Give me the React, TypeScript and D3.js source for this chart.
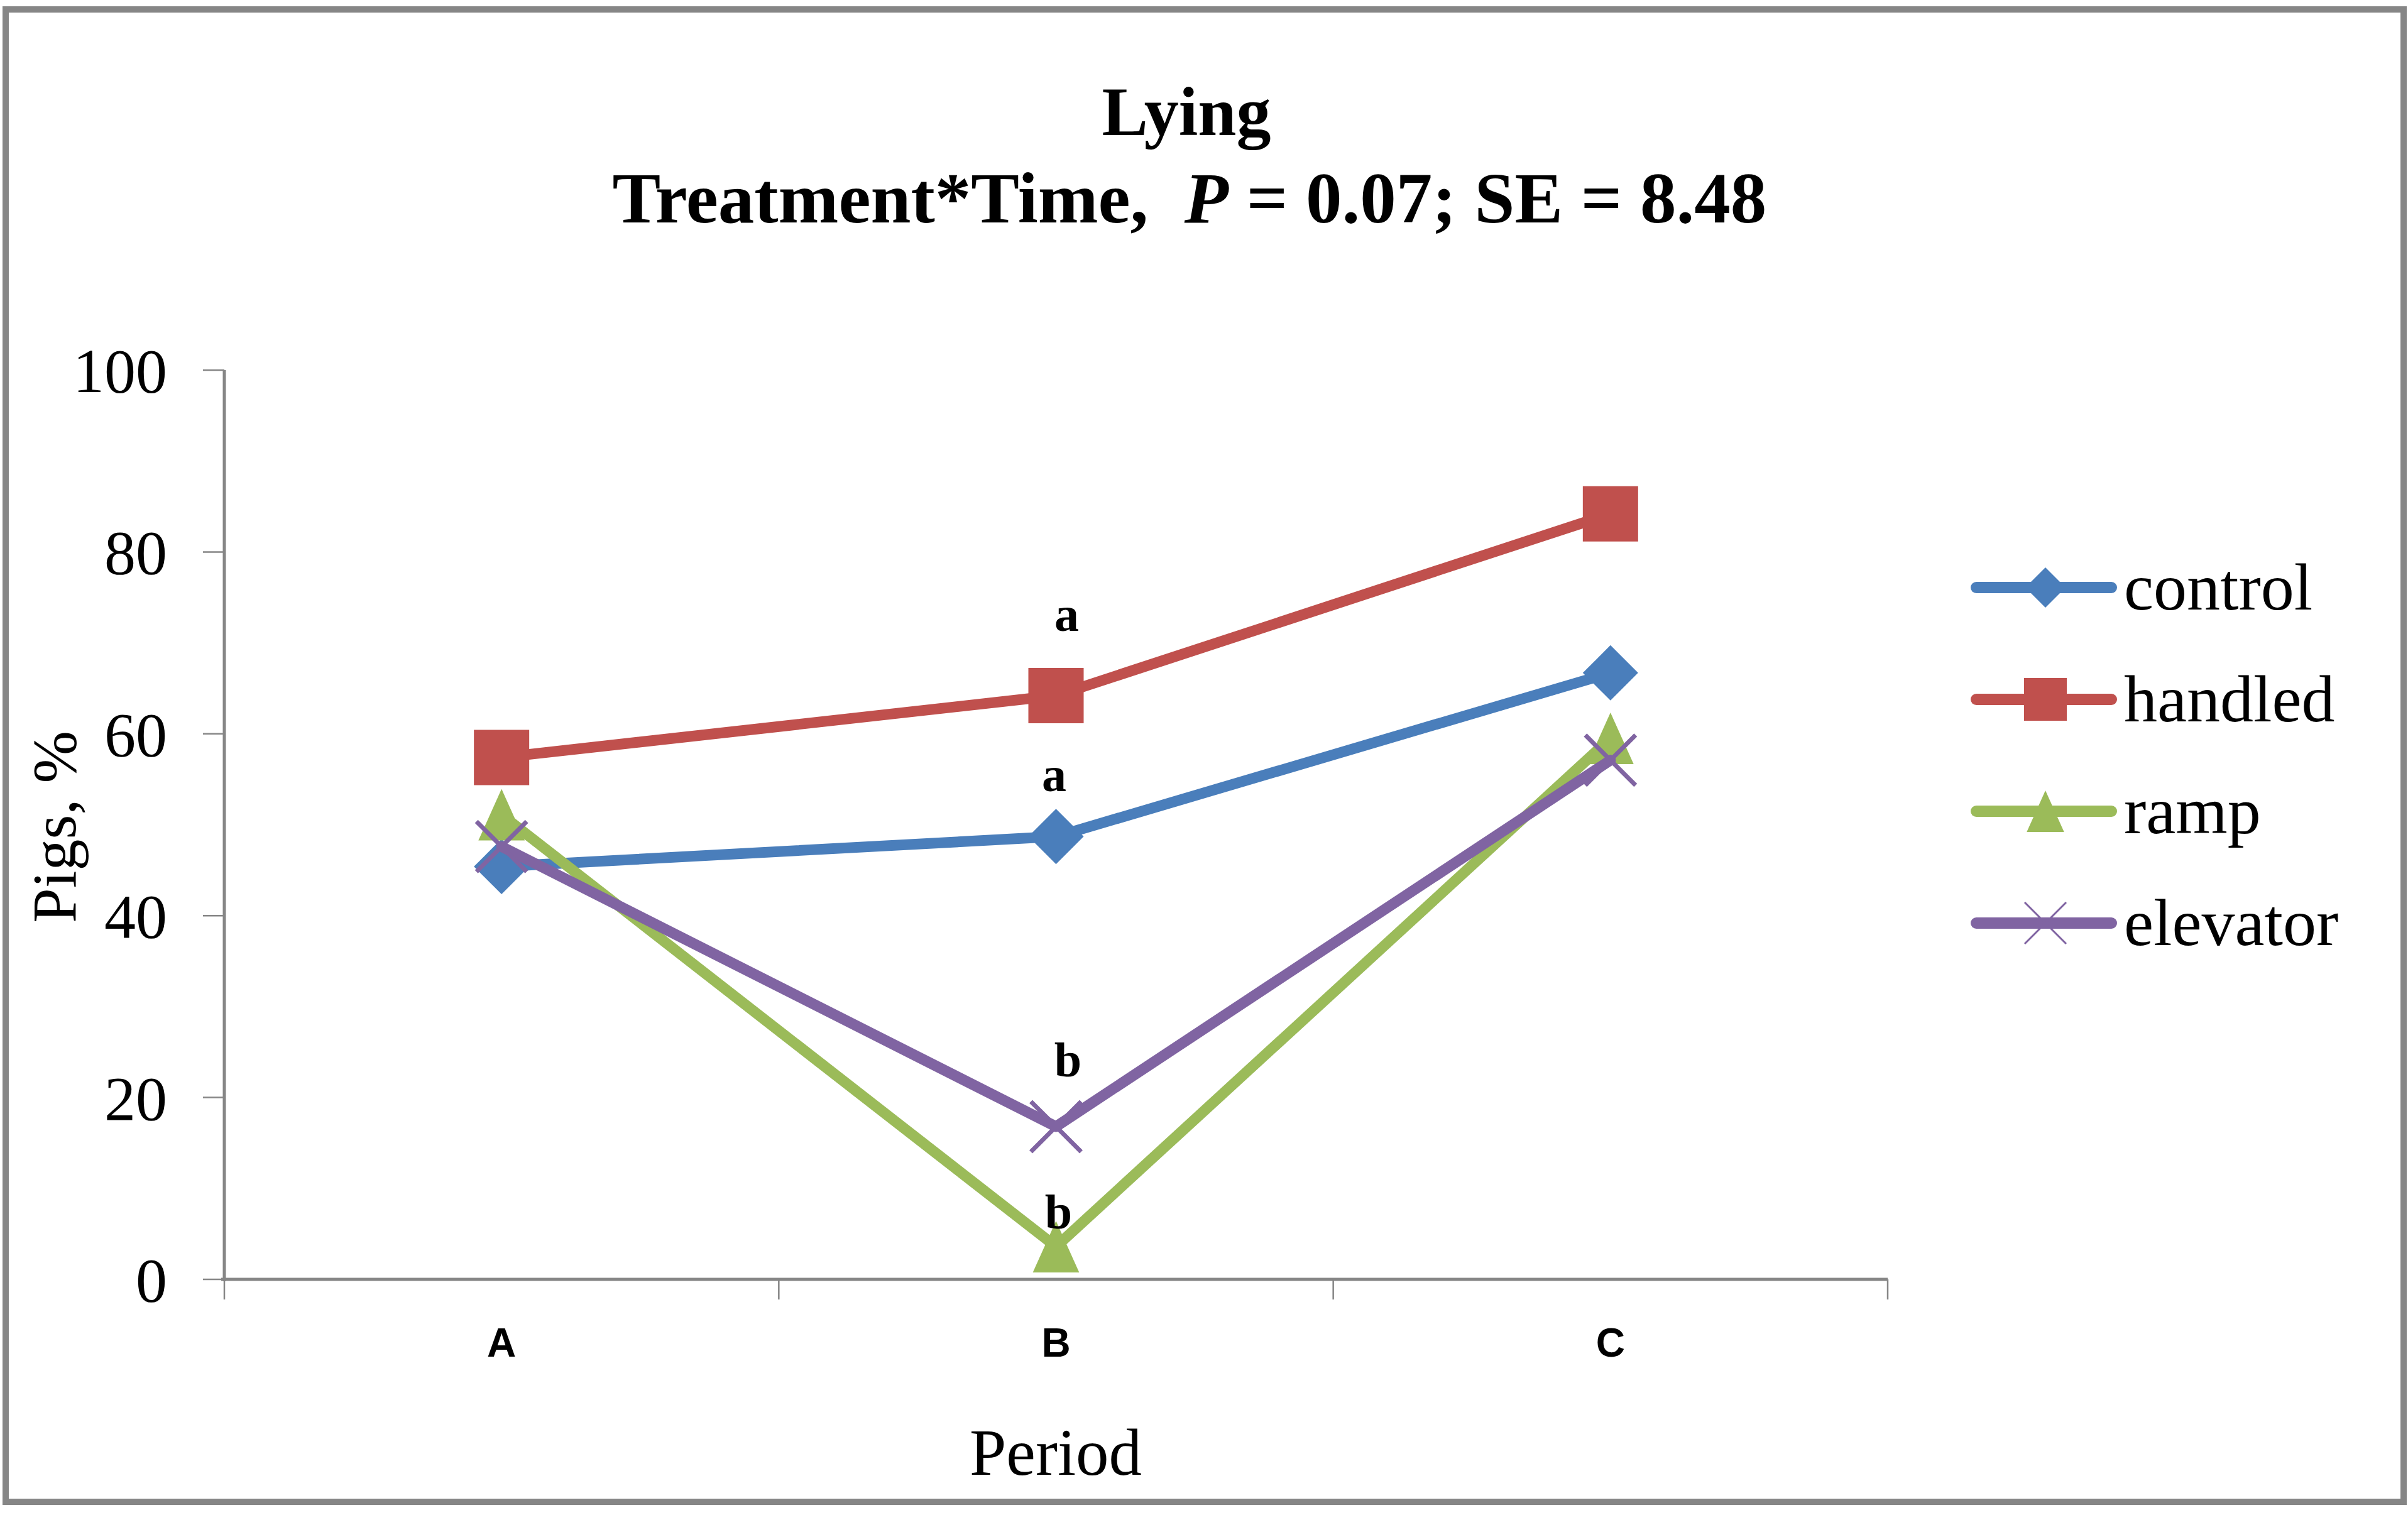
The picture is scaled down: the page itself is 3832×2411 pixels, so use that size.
import * as d3 from "d3";
import React from "react";

const categories = ["A", "B", "C"];
const seriesNames = ["control", "handled", "ramp", "elevator"];
const controlValues = [45.4, 48.7, 66.7];
const handledValues = [57.4, 64.2, 84.2];
const rampValues = [51.1, 3.6, 59.5];
const elevatorValues = [47.6, 16.8, 57.1];
const yTicks = [0, 20, 40, 60, 80, 100];

// significance letters at period B
const letterLabels = [
  { series: "handled", category: "B", text: "a", dx: 17, dy: -103 },
  { series: "control", category: "B", text: "a", dx: -3, dy: -72 },
  { series: "elevator", category: "B", text: "b", dx: 19, dy: -80 },
  { series: "ramp", category: "B", text: "b", dx: 4, dy: -29 },
];

const W = 3832;
const H = 2411;
const serif = "'Liberation Serif', 'Times New Roman', serif";
const sans = "'Liberation Sans', Arial, sans-serif";
const axisGray = "#868686";

const styles: Record<string, { color: string; shape: string }> = {
  control: { color: "#4A7EBB", shape: "diamond" },
  handled: { color: "#C0504D", shape: "square" },
  ramp: { color: "#9BBB59", shape: "triangle" },
  elevator: { color: "#8064A2", shape: "x" },
};

const valuesBySeries: Record<string, number[]> = {
  control: controlValues,
  handled: handledValues,
  ramp: rampValues,
  elevator: elevatorValues,
};

function markerPath(shape: string, h: number) {
  const p = d3.path();
  if (shape === "square") {
    p.rect(-h, -h, 2 * h, 2 * h);
  } else if (shape === "diamond") {
    p.moveTo(0, -h);
    p.lineTo(h, 0);
    p.lineTo(0, h);
    p.lineTo(-h, 0);
    p.closePath();
  } else if (shape === "triangle") {
    p.moveTo(0, -h);
    p.lineTo(h * 0.9, h);
    p.lineTo(-h * 0.9, h);
    p.closePath();
  } else {
    p.moveTo(-h, -h);
    p.lineTo(h, h);
    p.moveTo(h, -h);
    p.lineTo(-h, h);
  }
  return p.toString();
}

const markerSize: Record<string, number> = {
  square: 44,
  diamond: 44,
  triangle: 41,
  x: 40,
};

const legendSize: Record<string, number> = {
  square: 34,
  diamond: 32,
  triangle: 33,
  x: 33,
};

const Marker = ({ shape, color, h, thin }: { shape: string; color: string; h: number; thin?: boolean }) =>
  shape === "x" ? (
    <path d={markerPath(shape, h)} fill="none" stroke={color} strokeWidth={thin ? 3 : 7} />
  ) : (
    <path d={markerPath(shape, h)} fill={color} />
  );

export default function App() {
  const x = d3.scaleBand().domain(categories).range([357, 3004]);
  const y = d3.scaleLinear().domain([0, 100]).range([2036, 589]);
  const cx = (c: string) => (x(c) ?? 0) + x.bandwidth() / 2;

  const line = d3
    .line<number>()
    .x((_, i) => cx(categories[i]))
    .y((d) => y(d));

  const xBoundaries = [...categories.map((c) => x(c) ?? 0), x.range()[1]];

  return (
    <svg
      width={W}
      height={H}
      style={{ position: "absolute", left: 0, top: 0, display: "block", background: "#fff" }}
    >
      <rect x={0} y={0} width={W} height={H} fill="#fff" />
      <rect x={9} y={15} width={3816} height={2375} fill="#fff" stroke={axisGray} strokeWidth={10} />

      {/* title */}
      <text x={1888} y={215} textAnchor="middle" fontFamily={serif} fontWeight="bold" fontSize={110}>
        Lying
      </text>
      <text x={1893} y={354} textAnchor="middle" fontFamily={serif} fontWeight="bold" fontSize={115}>
        <tspan>Treatment*Time,{"\u00A0 "}</tspan>
        <tspan fontStyle="italic">P</tspan>
        <tspan> = 0.07; SE = 8.48</tspan>
      </text>

      {/* y axis */}
      <line x1={357} x2={357} y1={y(100)} y2={y(0) + 3} stroke={axisGray} strokeWidth={5} />
      {yTicks.map((t) => (
        <g key={t}>
          <line x1={323} x2={357} y1={y(t)} y2={y(t)} stroke={axisGray} strokeWidth={2.5} />
          <text
            x={266}
            y={y(t)}
            dy="0.35em"
            textAnchor="end"
            fontFamily={serif}
            fontSize={100}
          >
            {t}
          </text>
        </g>
      ))}
      <text
        transform={`translate(120,1316) rotate(-90)`}
        textAnchor="middle"
        fontFamily={serif}
        fontSize={100}
      >
        Pigs, %
      </text>

      {/* x axis */}
      <line x1={352} x2={x.range()[1]} y1={y(0)} y2={y(0)} stroke={axisGray} strokeWidth={5} />
      {xBoundaries.map((b, i) => (
        <line key={i} x1={b} x2={b} y1={y(0)} y2={y(0) + 32} stroke={axisGray} strokeWidth={2.5} />
      ))}
      {categories.map((c) => (
        <text key={c} x={cx(c)} y={2159} textAnchor="middle" fontFamily={sans} fontWeight="bold" fontSize={64}>
          {c}
        </text>
      ))}
      <text x={1680} y={2347} textAnchor="middle" fontFamily={serif} fontSize={105}>
        Period
      </text>

      {/* series */}
      {seriesNames.map((s) => {
        const st = styles[s];
        const vals = valuesBySeries[s];
        return (
          <g key={s}>
            <path
              d={line(vals) ?? ""}
              fill="none"
              stroke={st.color}
              strokeWidth={17}
              strokeLinejoin="round"
              strokeLinecap="round"
            />
            {vals.map((v, i) => (
              <g key={i} transform={`translate(${cx(categories[i])},${y(v)})`}>
                <Marker shape={st.shape} color={st.color} h={markerSize[st.shape]} />
              </g>
            ))}
          </g>
        );
      })}

      {/* letters */}
      {letterLabels.map((l, i) => {
        const idx = categories.indexOf(l.category);
        const v = valuesBySeries[l.series][idx];
        return (
          <text
            key={i}
            x={cx(l.category) + l.dx}
            y={y(v) + l.dy}
            textAnchor="middle"
            fontFamily={serif}
            fontWeight="bold"
            fontSize={78}
          >
            {l.text}
          </text>
        );
      })}

      {/* legend */}
      {seriesNames.map((s, i) => {
        const st = styles[s];
        const ly = 935 + i * 178;
        return (
          <g key={s} transform={`translate(0,${ly})`}>
            <line x1={3145} x2={3360} y1={0} y2={0} stroke={st.color} strokeWidth={18} strokeLinecap="round" />
            <g transform="translate(3255,0)">
              <Marker shape={st.shape} color={st.color} h={legendSize[st.shape]} thin />
            </g>
            <text x={3380} y={0} dy="0.33em" fontFamily={serif} fontSize={106}>
              {s}
            </text>
          </g>
        );
      })}
    </svg>
  );
}
